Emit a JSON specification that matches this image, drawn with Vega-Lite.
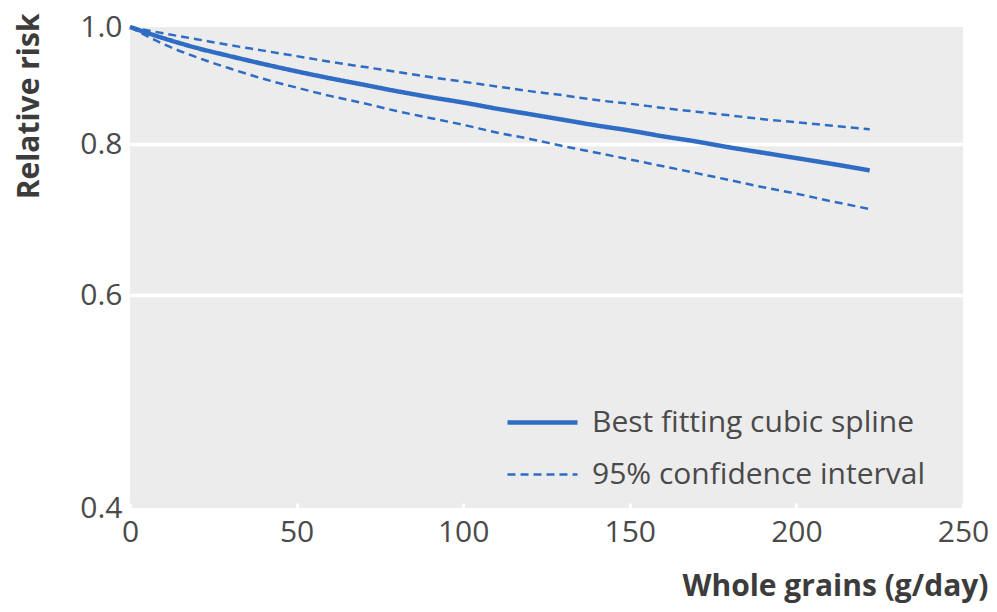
{
  "$schema": "https://vega.github.io/schema/vega-lite/v6.json",
  "autosize": "none",
  "width": 833,
  "height": 481,
  "padding": {"left": 130, "top": 27, "right": 34, "bottom": 104},
  "background": "white",
  "config": {
    "font": "Open Sans",
    "view": {"fill": "#ececec", "stroke": null}
  },
  "data": {
    "values": [
      {"x": 0, "rr": 1.0, "series": "Best fitting cubic spline", "curve": "fit"},
      {"x": 10, "rr": 0.979, "series": "Best fitting cubic spline", "curve": "fit"},
      {"x": 20, "rr": 0.961, "series": "Best fitting cubic spline", "curve": "fit"},
      {"x": 30, "rr": 0.946, "series": "Best fitting cubic spline", "curve": "fit"},
      {"x": 40, "rr": 0.932, "series": "Best fitting cubic spline", "curve": "fit"},
      {"x": 50, "rr": 0.919, "series": "Best fitting cubic spline", "curve": "fit"},
      {"x": 60, "rr": 0.907, "series": "Best fitting cubic spline", "curve": "fit"},
      {"x": 70, "rr": 0.896, "series": "Best fitting cubic spline", "curve": "fit"},
      {"x": 80, "rr": 0.885, "series": "Best fitting cubic spline", "curve": "fit"},
      {"x": 90, "rr": 0.875, "series": "Best fitting cubic spline", "curve": "fit"},
      {"x": 100, "rr": 0.866, "series": "Best fitting cubic spline", "curve": "fit"},
      {"x": 110, "rr": 0.856, "series": "Best fitting cubic spline", "curve": "fit"},
      {"x": 120, "rr": 0.847, "series": "Best fitting cubic spline", "curve": "fit"},
      {"x": 130, "rr": 0.838, "series": "Best fitting cubic spline", "curve": "fit"},
      {"x": 140, "rr": 0.829, "series": "Best fitting cubic spline", "curve": "fit"},
      {"x": 150, "rr": 0.821, "series": "Best fitting cubic spline", "curve": "fit"},
      {"x": 160, "rr": 0.812, "series": "Best fitting cubic spline", "curve": "fit"},
      {"x": 170, "rr": 0.804, "series": "Best fitting cubic spline", "curve": "fit"},
      {"x": 180, "rr": 0.795, "series": "Best fitting cubic spline", "curve": "fit"},
      {"x": 190, "rr": 0.787, "series": "Best fitting cubic spline", "curve": "fit"},
      {"x": 200, "rr": 0.779, "series": "Best fitting cubic spline", "curve": "fit"},
      {"x": 210, "rr": 0.771, "series": "Best fitting cubic spline", "curve": "fit"},
      {"x": 222, "rr": 0.761, "series": "Best fitting cubic spline", "curve": "fit"},
      {"x": 0, "rr": 1.0, "series": "95% confidence interval", "curve": "upper"},
      {"x": 10, "rr": 0.988, "series": "95% confidence interval", "curve": "upper"},
      {"x": 20, "rr": 0.977, "series": "95% confidence interval", "curve": "upper"},
      {"x": 30, "rr": 0.966, "series": "95% confidence interval", "curve": "upper"},
      {"x": 40, "rr": 0.956, "series": "95% confidence interval", "curve": "upper"},
      {"x": 50, "rr": 0.946, "series": "95% confidence interval", "curve": "upper"},
      {"x": 60, "rr": 0.936, "series": "95% confidence interval", "curve": "upper"},
      {"x": 70, "rr": 0.927, "series": "95% confidence interval", "curve": "upper"},
      {"x": 80, "rr": 0.918, "series": "95% confidence interval", "curve": "upper"},
      {"x": 90, "rr": 0.909, "series": "95% confidence interval", "curve": "upper"},
      {"x": 100, "rr": 0.901, "series": "95% confidence interval", "curve": "upper"},
      {"x": 110, "rr": 0.893, "series": "95% confidence interval", "curve": "upper"},
      {"x": 120, "rr": 0.885, "series": "95% confidence interval", "curve": "upper"},
      {"x": 130, "rr": 0.878, "series": "95% confidence interval", "curve": "upper"},
      {"x": 140, "rr": 0.870, "series": "95% confidence interval", "curve": "upper"},
      {"x": 150, "rr": 0.864, "series": "95% confidence interval", "curve": "upper"},
      {"x": 160, "rr": 0.857, "series": "95% confidence interval", "curve": "upper"},
      {"x": 170, "rr": 0.851, "series": "95% confidence interval", "curve": "upper"},
      {"x": 180, "rr": 0.845, "series": "95% confidence interval", "curve": "upper"},
      {"x": 190, "rr": 0.839, "series": "95% confidence interval", "curve": "upper"},
      {"x": 200, "rr": 0.834, "series": "95% confidence interval", "curve": "upper"},
      {"x": 210, "rr": 0.829, "series": "95% confidence interval", "curve": "upper"},
      {"x": 222, "rr": 0.823, "series": "95% confidence interval", "curve": "upper"},
      {"x": 0, "rr": 1.0, "series": "95% confidence interval", "curve": "lower"},
      {"x": 10, "rr": 0.968, "series": "95% confidence interval", "curve": "lower"},
      {"x": 20, "rr": 0.944, "series": "95% confidence interval", "curve": "lower"},
      {"x": 30, "rr": 0.924, "series": "95% confidence interval", "curve": "lower"},
      {"x": 40, "rr": 0.906, "series": "95% confidence interval", "curve": "lower"},
      {"x": 50, "rr": 0.891, "series": "95% confidence interval", "curve": "lower"},
      {"x": 60, "rr": 0.877, "series": "95% confidence interval", "curve": "lower"},
      {"x": 70, "rr": 0.865, "series": "95% confidence interval", "curve": "lower"},
      {"x": 80, "rr": 0.852, "series": "95% confidence interval", "curve": "lower"},
      {"x": 90, "rr": 0.841, "series": "95% confidence interval", "curve": "lower"},
      {"x": 100, "rr": 0.830, "series": "95% confidence interval", "curve": "lower"},
      {"x": 110, "rr": 0.818, "series": "95% confidence interval", "curve": "lower"},
      {"x": 120, "rr": 0.808, "series": "95% confidence interval", "curve": "lower"},
      {"x": 130, "rr": 0.797, "series": "95% confidence interval", "curve": "lower"},
      {"x": 140, "rr": 0.787, "series": "95% confidence interval", "curve": "lower"},
      {"x": 150, "rr": 0.777, "series": "95% confidence interval", "curve": "lower"},
      {"x": 160, "rr": 0.767, "series": "95% confidence interval", "curve": "lower"},
      {"x": 170, "rr": 0.757, "series": "95% confidence interval", "curve": "lower"},
      {"x": 180, "rr": 0.747, "series": "95% confidence interval", "curve": "lower"},
      {"x": 190, "rr": 0.737, "series": "95% confidence interval", "curve": "lower"},
      {"x": 200, "rr": 0.728, "series": "95% confidence interval", "curve": "lower"},
      {"x": 210, "rr": 0.718, "series": "95% confidence interval", "curve": "lower"},
      {"x": 222, "rr": 0.707, "series": "95% confidence interval", "curve": "lower"}
    ]
  },
  "mark": {"type": "line", "interpolate": "monotone", "strokeCap": "butt", "color": "#2f6cc4"},
  "encoding": {
    "x": {
      "field": "x", "type": "quantitative",
      "scale": {"domain": [0, 250], "nice": false, "zero": false},
      "axis": {
        "values": [0, 50, 100, 150, 200, 250],
        "title": "Whole grains (g/day)",
        "grid": false, "domain": false,
        "ticks": true, "tickSize": -5, "tickWidth": 3, "tickColor": "white",
        "labelFontSize": 30, "labelColor": "#4a4a4a", "labelPadding": 14, "labelFlush": false,
        "titleFontSize": 30, "titleFontWeight": "bold", "titleColor": "#3c3c3c",
        "titleAlign": "right", "titleX": 858, "titleY": 87, "titleBaseline": "alphabetic", "titleAnchor": null
      }
    },
    "y": {
      "field": "rr", "type": "quantitative",
      "scale": {"type": "log", "domain": [0.4, 1.0], "nice": false, "zero": false},
      "axis": {
        "values": [0.4, 0.6, 0.8, 1.0],
        "format": ".1f",
        "title": "Relative risk",
        "domain": false, "ticks": false,
        "grid": true, "gridColor": "white", "gridWidth": 3.5,
        "gridOpacity": {"condition": {"test": "datum.value > 0.9 || datum.value < 0.5", "value": 0}, "value": 1},
        "labelFontSize": 30, "labelColor": "#4a4a4a", "labelPadding": 8, "labelFlush": false, "labelBaseline": "middle",
        "titleFontSize": 30, "titleFontWeight": "bold", "titleColor": "#3c3c3c",
        "titleAngle": -90, "titleAlign": "right", "titleBaseline": "middle", "titleX": -101, "titleY": -14, "titleAnchor": null
      }
    },
    "detail": {"field": "curve"},
    "strokeDash": {
      "field": "series", "type": "nominal",
      "scale": {"domain": ["Best fitting cubic spline", "95% confidence interval"], "range": [[1, 0], [8, 5]]},
      "legend": {
        "title": null, "orient": "none", "legendX": 375, "legendY": 358,
        "symbolType": "stroke", "symbolSize": 4900, "symbolStrokeColor": "#2f6cc4", "symbolStrokeWidth": 3,
        "labelFontSize": 30, "labelColor": "#4a4a4a", "labelOffset": 12, "labelLimit": 500, "rowPadding": -9,
        "encode": {
          "symbols": {"update": {"strokeWidth": {"signal": "datum.value === 'Best fitting cubic spline' ? 4.5 : 2.5"}}}
        }
      }
    },
    "strokeWidth": {
      "field": "series", "type": "nominal",
      "scale": {"domain": ["Best fitting cubic spline", "95% confidence interval"], "range": [4.5, 2.5]},
      "legend": null
    }
  }
}
